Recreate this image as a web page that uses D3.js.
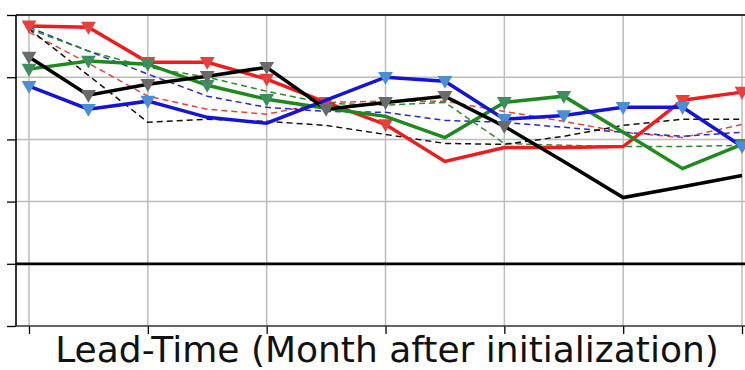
<!DOCTYPE html>
<html lang="en">
<head>
    <meta charset="UTF-8">
    <title>Lead-Time skill</title>
    <script src="https://d3js.org/d3.v7.min.js"></script>
    <style>
        body { margin: 0; background: #fff; }
        .grid line { stroke: #bcbcbc; stroke-width: 1.5; }
        .solid { fill: none; stroke-width: 3.5; stroke-linejoin: miter; }
        .dashed { fill: none; stroke-width: 1.5; stroke-dasharray: 6,4; }
        .xlabel { font-family: "DejaVu Sans", sans-serif; font-size: 36px; fill: #111; text-anchor: middle; }
    </style>
</head>
<body>
    <div id="chart"></div>
    <script>
        const width = 745, height = 370;

        // lead months (x) and tick values
        const months = [1, 2, 3, 4, 5, 6, 7, 8, 9, 10, 11, 12, 13];
        const xTicks = [1, 3, 5, 7, 9, 11, 13];
        const yTicks = [-0.2, 0, 0.2, 0.4, 0.6, 0.8];

        // thick lines
        const redSolid   = [0.765, 0.761, 0.648, 0.648, 0.594, 0.519, 0.448, 0.329, 0.374, 0.374, 0.377, 0.526, 0.552];
        const blackSolid = [0.665, 0.542, 0.577, 0.603, 0.632, 0.497, 0.519, 0.539, 0.442, 0.329, 0.213, 0.248, 0.284];
        const blueSolid  = [0.571, 0.497, 0.523, 0.471, 0.452, 0.526, 0.600, 0.587, 0.465, 0.477, 0.503, 0.503, 0.377];
        const greenSolid = [0.626, 0.652, 0.642, 0.574, 0.529, 0.500, 0.474, 0.406, 0.519, 0.539, 0.423, 0.306, 0.384];

        // markers shown (1) or not (0) on the thick lines
        const redMarks   = [1, 1, 1, 1, 1, 1, 1, 0, 0, 0, 0, 1, 1];
        const blackMarks = [1, 1, 1, 1, 1, 1, 1, 1, 1, 0, 0, 0, 0];
        const blueMarks  = [1, 1, 1, 0, 0, 0, 1, 1, 1, 1, 1, 1, 1];
        const greenMarks = [1, 1, 1, 1, 1, 0, 0, 0, 1, 1, 0, 0, 1];

        // thin dashed lines
        const redDashed   = [0.745, 0.645, 0.539, 0.497, 0.481, 0.519, 0.523, 0.523, 0.490, 0.458, 0.423, 0.406, 0.448];
        const blackDashed = [0.755, 0.606, 0.455, 0.465, 0.458, 0.445, 0.416, 0.387, 0.384, 0.410, 0.445, 0.465, 0.465];
        const blueDashed  = [0.761, 0.684, 0.610, 0.539, 0.503, 0.490, 0.487, 0.461, 0.455, 0.439, 0.423, 0.410, 0.423];
        const greenDashed = [0.755, 0.684, 0.632, 0.600, 0.555, 0.516, 0.510, 0.519, 0.387, 0.381, 0.377, 0.377, 0.381];

        const plot = { left: 16, top: 15, right: 758, bottom: 326 };

        const svg = d3.select("#chart")
            .append("svg")
            .attr("width", width)
            .attr("height", height);

        const x = d3.scaleLinear().domain([1, 13]).range([29, 742]);
        const y = d3.scaleLinear().domain([-0.2, 0.8]).range([plot.bottom, plot.top]);

        // grid
        const grid = svg.append("g").attr("class", "grid");
        grid.selectAll(".gx").data(xTicks).join("line")
            .attr("x1", d => x(d)).attr("x2", d => x(d))
            .attr("y1", plot.top).attr("y2", plot.bottom);
        grid.selectAll(".gy").data(yTicks.slice(1)).join("line")
            .attr("x1", plot.left).attr("x2", plot.right)
            .attr("y1", d => y(d)).attr("y2", d => y(d));

        // zero line
        svg.append("line")
            .attr("x1", plot.left).attr("x2", plot.right)
            .attr("y1", y(0)).attr("y2", y(0))
            .attr("stroke", "#000").attr("stroke-width", 2.8);

        const line = d3.line()
            .x((d, i) => x(months[i]))
            .y(d => y(d));

        const dashed = [
            { values: redDashed, color: "#e0443a" },
            { values: blueDashed, color: "#2a2ac8" },
            { values: greenDashed, color: "#2b8a2b" },
            { values: blackDashed, color: "#111" }
        ];
        dashed.forEach(s => {
            svg.append("path")
                .datum(s.values)
                .attr("class", "dashed")
                .attr("stroke", s.color)
                .attr("d", line);
        });

        const solid = [
            { values: redSolid, marks: redMarks, color: "#ee1c1c", mark: "#e8403a" },
            { values: greenSolid, marks: greenMarks, color: "#1e8a1e", mark: "#3c8f5c" },
            { values: blueSolid, marks: blueMarks, color: "#1414d8", mark: "#4a8ed6" },
            { values: blackSolid, marks: blackMarks, color: "#000", mark: "#6a6a6a" }
        ];
        const tri = d3.symbol().type(d3.symbolTriangle).size(95);
        solid.forEach(s => {
            svg.append("path")
                .datum(s.values)
                .attr("class", "solid")
                .attr("stroke", s.color)
                .attr("d", line);
            svg.append("g").selectAll("path")
                .data(s.values.map((v, i) => ({ m: months[i], v, on: s.marks[i] })).filter(d => d.on))
                .join("path")
                .attr("d", tri)
                .attr("fill", s.mark)
                .attr("transform", d => `translate(${x(d.m)},${y(d.v) - 1}) rotate(180)`);
        });

        // axes
        svg.append("g")
            .attr("transform", `translate(0,${plot.bottom})`)
            .call(d3.axisBottom(x).tickValues(xTicks).tickSize(8).tickFormat(""))
            .call(g => g.select(".domain").remove())
            .call(g => g.selectAll(".tick line").attr("stroke", "#000").attr("stroke-width", 1.3));

        svg.append("g")
            .attr("transform", `translate(${plot.left},0)`)
            .call(d3.axisLeft(y).tickValues(yTicks).tickSize(9).tickFormat(""))
            .call(g => g.select(".domain").remove())
            .call(g => g.selectAll(".tick line").attr("stroke", "#000").attr("stroke-width", 1.3));

        // spines
        svg.append("line").attr("x1", plot.left).attr("x2", plot.left)
            .attr("y1", plot.top).attr("y2", plot.bottom)
            .attr("stroke", "#000").attr("stroke-width", 1.6);
        svg.append("line").attr("x1", plot.left).attr("x2", plot.right)
            .attr("y1", plot.top).attr("y2", plot.top)
            .attr("stroke", "#000").attr("stroke-width", 1.6);
        svg.append("line").attr("x1", plot.left).attr("x2", plot.right)
            .attr("y1", plot.bottom).attr("y2", plot.bottom)
            .attr("stroke", "#333").attr("stroke-width", 1.4);

        svg.append("text")
            .attr("class", "xlabel")
            .attr("x", 387)
            .attr("y", 362)
            .text("Lead-Time (Month after initialization)");
    </script>
</body>
</html>
